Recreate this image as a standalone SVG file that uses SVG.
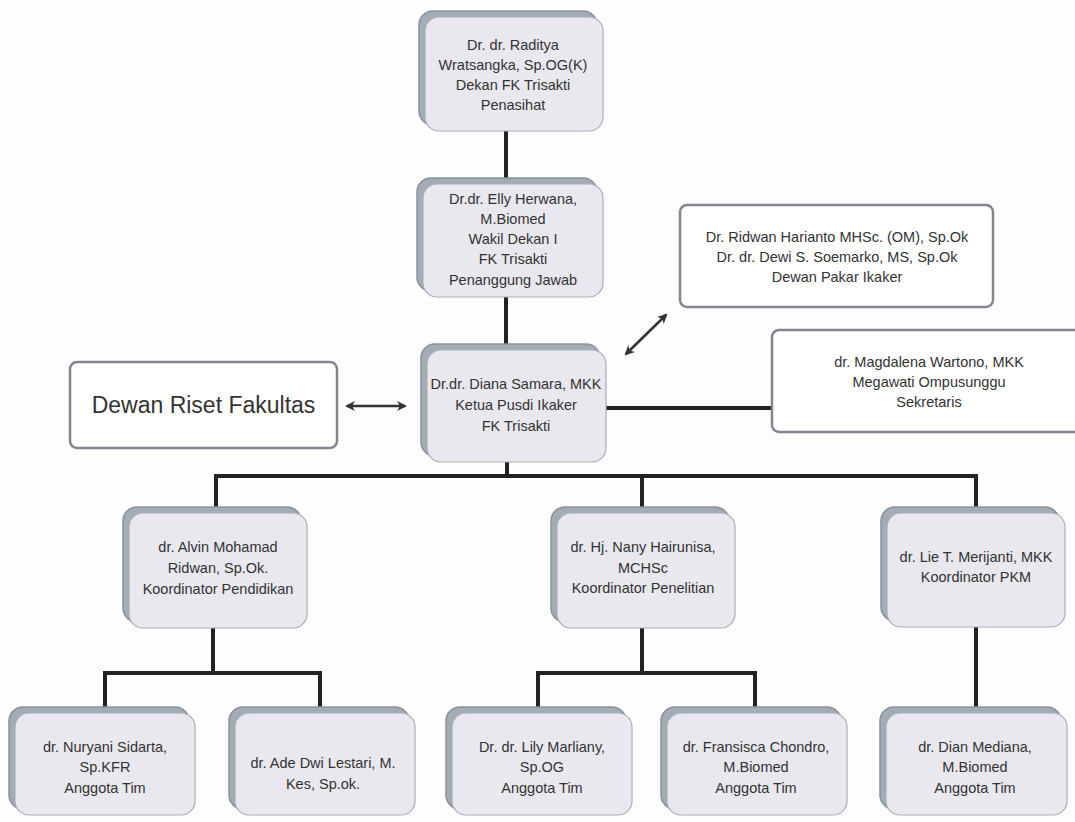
<svg xmlns="http://www.w3.org/2000/svg" width="1075" height="822" viewBox="0 0 1075 822">
<style>
.sh{fill:#a3abb5;stroke:#8a929c;stroke-width:1.5}
.fc{fill:#e9e8ef;stroke:#a9aeb6;stroke-width:1.2}
.wb{fill:#ffffff;stroke:#80868e;stroke-width:2.5}
.t{font-family:"Liberation Sans",Arial,sans-serif;font-size:14.5px;fill:#333;text-anchor:middle}
.big{font-family:"Liberation Sans",Arial,sans-serif;font-size:23px;fill:#333;text-anchor:middle}
.ln{stroke:#222;stroke-width:4;fill:none}
.ar{stroke:#333;stroke-width:2.5;fill:none;marker-start:url(#ah);marker-end:url(#ah)}
</style>
<defs>
<marker id="ah" viewBox="0 0 10 10" refX="8" refY="5" markerWidth="4" markerHeight="4" orient="auto-start-reverse">
<path d="M0,0 L10,5 L0,10 L3,5 Z" fill="#333"/>
</marker>
</defs>
<rect width="1075" height="822" fill="#fdfdfd"/>
<g id="connectors">
<path class="ln" d="M506,131 V184"/>
<path class="ln" d="M506,297 V350"/>
<path class="ln" d="M507,462 V476"/>
<path class="ln" d="M214,476 H978 M216,476 V508 M642,476 V508 M976,476 V508"/>
<path class="ln" d="M213,628 V673 M103,673 H322 M105,673 V707 M320,673 V707"/>
<path class="ln" d="M642,628 V673 M536,673 H757 M538,673 V707 M755,673 V707"/>
<path class="ln" d="M976,627 V707"/>
<path class="ln" d="M606,408 H772"/>
<line class="ar" x1="347" y1="406" x2="405" y2="406"/>
<line class="ar" x1="626" y1="354" x2="666" y2="315"/>
</g>
<g id="n-raditya">
<rect class="sh" x="419" y="11" width="178" height="114" rx="14"/>
<rect class="fc" x="425" y="17" width="178" height="114" rx="14"/>
<text class="t" x="513" y="50">Dr. dr. Raditya</text>
<text class="t" x="513" y="70">Wratsangka, Sp.OG(K)</text>
<text class="t" x="513" y="90">Dekan FK Trisakti</text>
<text class="t" x="513" y="110">Penasihat</text>
</g>
<g id="n-elly">
<rect class="sh" x="417" y="178" width="180" height="113" rx="14"/>
<rect class="fc" x="423" y="184" width="180" height="113" rx="14"/>
<text class="t" x="513" y="204">Dr.dr. Elly Herwana,</text>
<text class="t" x="513" y="224">M.Biomed</text>
<text class="t" x="513" y="244">Wakil Dekan I</text>
<text class="t" x="513" y="264">FK Trisakti</text>
<text class="t" x="513" y="285">Penanggung Jawab</text>
</g>
<g id="n-diana">
<rect class="sh" x="421" y="344" width="179" height="112" rx="14"/>
<rect class="fc" x="427" y="350" width="179" height="112" rx="14"/>
<text class="t" x="516" y="389">Dr.dr. Diana Samara, MKK</text>
<text class="t" x="516" y="410">Ketua Pusdi Ikaker</text>
<text class="t" x="516" y="431">FK Trisakti</text>
</g>
<g id="n-riset">
<rect class="wb" x="70" y="362" width="267" height="86" rx="7"/>
<text class="big" x="203.5" y="413">Dewan Riset Fakultas</text>
</g>
<g id="n-pakar">
<rect class="wb" x="680" y="205" width="313" height="102" rx="7"/>
<text class="t" x="837" y="242">Dr. Ridwan Harianto MHSc. (OM), Sp.Ok</text>
<text class="t" x="837" y="262">Dr. dr. Dewi S. Soemarko, MS, Sp.Ok</text>
<text class="t" x="837" y="282">Dewan Pakar Ikaker</text>
</g>
<g id="n-sekretaris">
<rect class="wb" x="772" y="330" width="320" height="102" rx="7"/>
<text class="t" x="929" y="367">dr. Magdalena Wartono, MKK</text>
<text class="t" x="929" y="387">Megawati Ompusunggu</text>
<text class="t" x="929" y="407">Sekretaris</text>
</g>
<g id="n-alvin">
<rect class="sh" x="123" y="507" width="178" height="115" rx="14"/>
<rect class="fc" x="129" y="513" width="178" height="115" rx="14"/>
<text class="t" x="218" y="552">dr. Alvin Mohamad</text>
<text class="t" x="218" y="573">Ridwan, Sp.Ok.</text>
<text class="t" x="218" y="594">Koordinator Pendidikan</text>
</g>
<g id="n-nany">
<rect class="sh" x="551" y="507" width="178" height="115" rx="14"/>
<rect class="fc" x="557" y="513" width="178" height="115" rx="14"/>
<text class="t" x="643" y="552">dr. Hj. Nany Hairunisa,</text>
<text class="t" x="643" y="573">MCHSc</text>
<text class="t" x="643" y="593">Koordinator Penelitian</text>
</g>
<g id="n-lie">
<rect class="sh" x="881" y="507" width="178" height="114" rx="14"/>
<rect class="fc" x="887" y="513" width="178" height="114" rx="14"/>
<text class="t" x="976" y="562">dr. Lie T. Merijanti, MKK</text>
<text class="t" x="976" y="582">Koordinator PKM</text>
</g>
<g id="n-nuryani">
<rect class="sh" x="9" y="707" width="180" height="102" rx="14"/>
<rect class="fc" x="15" y="713" width="180" height="102" rx="14"/>
<text class="t" x="105" y="752">dr. Nuryani Sidarta,</text>
<text class="t" x="105" y="772">Sp.KFR</text>
<text class="t" x="105" y="793">Anggota Tim</text>
</g>
<g id="n-ade">
<rect class="sh" x="229" y="707" width="180" height="102" rx="14"/>
<rect class="fc" x="235" y="713" width="180" height="102" rx="14"/>
<text class="t" x="323" y="768">dr. Ade Dwi Lestari, M.</text>
<text class="t" x="323" y="789">Kes, Sp.ok.</text>
</g>
<g id="n-lily">
<rect class="sh" x="446" y="707" width="180" height="102" rx="14"/>
<rect class="fc" x="452" y="713" width="180" height="102" rx="14"/>
<text class="t" x="542" y="752">Dr. dr. Lily Marliany,</text>
<text class="t" x="542" y="772">Sp.OG</text>
<text class="t" x="542" y="793">Anggota Tim</text>
</g>
<g id="n-fransisca">
<rect class="sh" x="661" y="707" width="180" height="102" rx="14"/>
<rect class="fc" x="667" y="713" width="180" height="102" rx="14"/>
<text class="t" x="756" y="752">dr. Fransisca Chondro,</text>
<text class="t" x="756" y="772">M.Biomed</text>
<text class="t" x="756" y="793">Anggota Tim</text>
</g>
<g id="n-dian">
<rect class="sh" x="880" y="707" width="181" height="102" rx="14"/>
<rect class="fc" x="886" y="713" width="181" height="102" rx="14"/>
<text class="t" x="975" y="752">dr. Dian Mediana,</text>
<text class="t" x="975" y="772">M.Biomed</text>
<text class="t" x="975" y="793">Anggota Tim</text>
</g>
</svg>
